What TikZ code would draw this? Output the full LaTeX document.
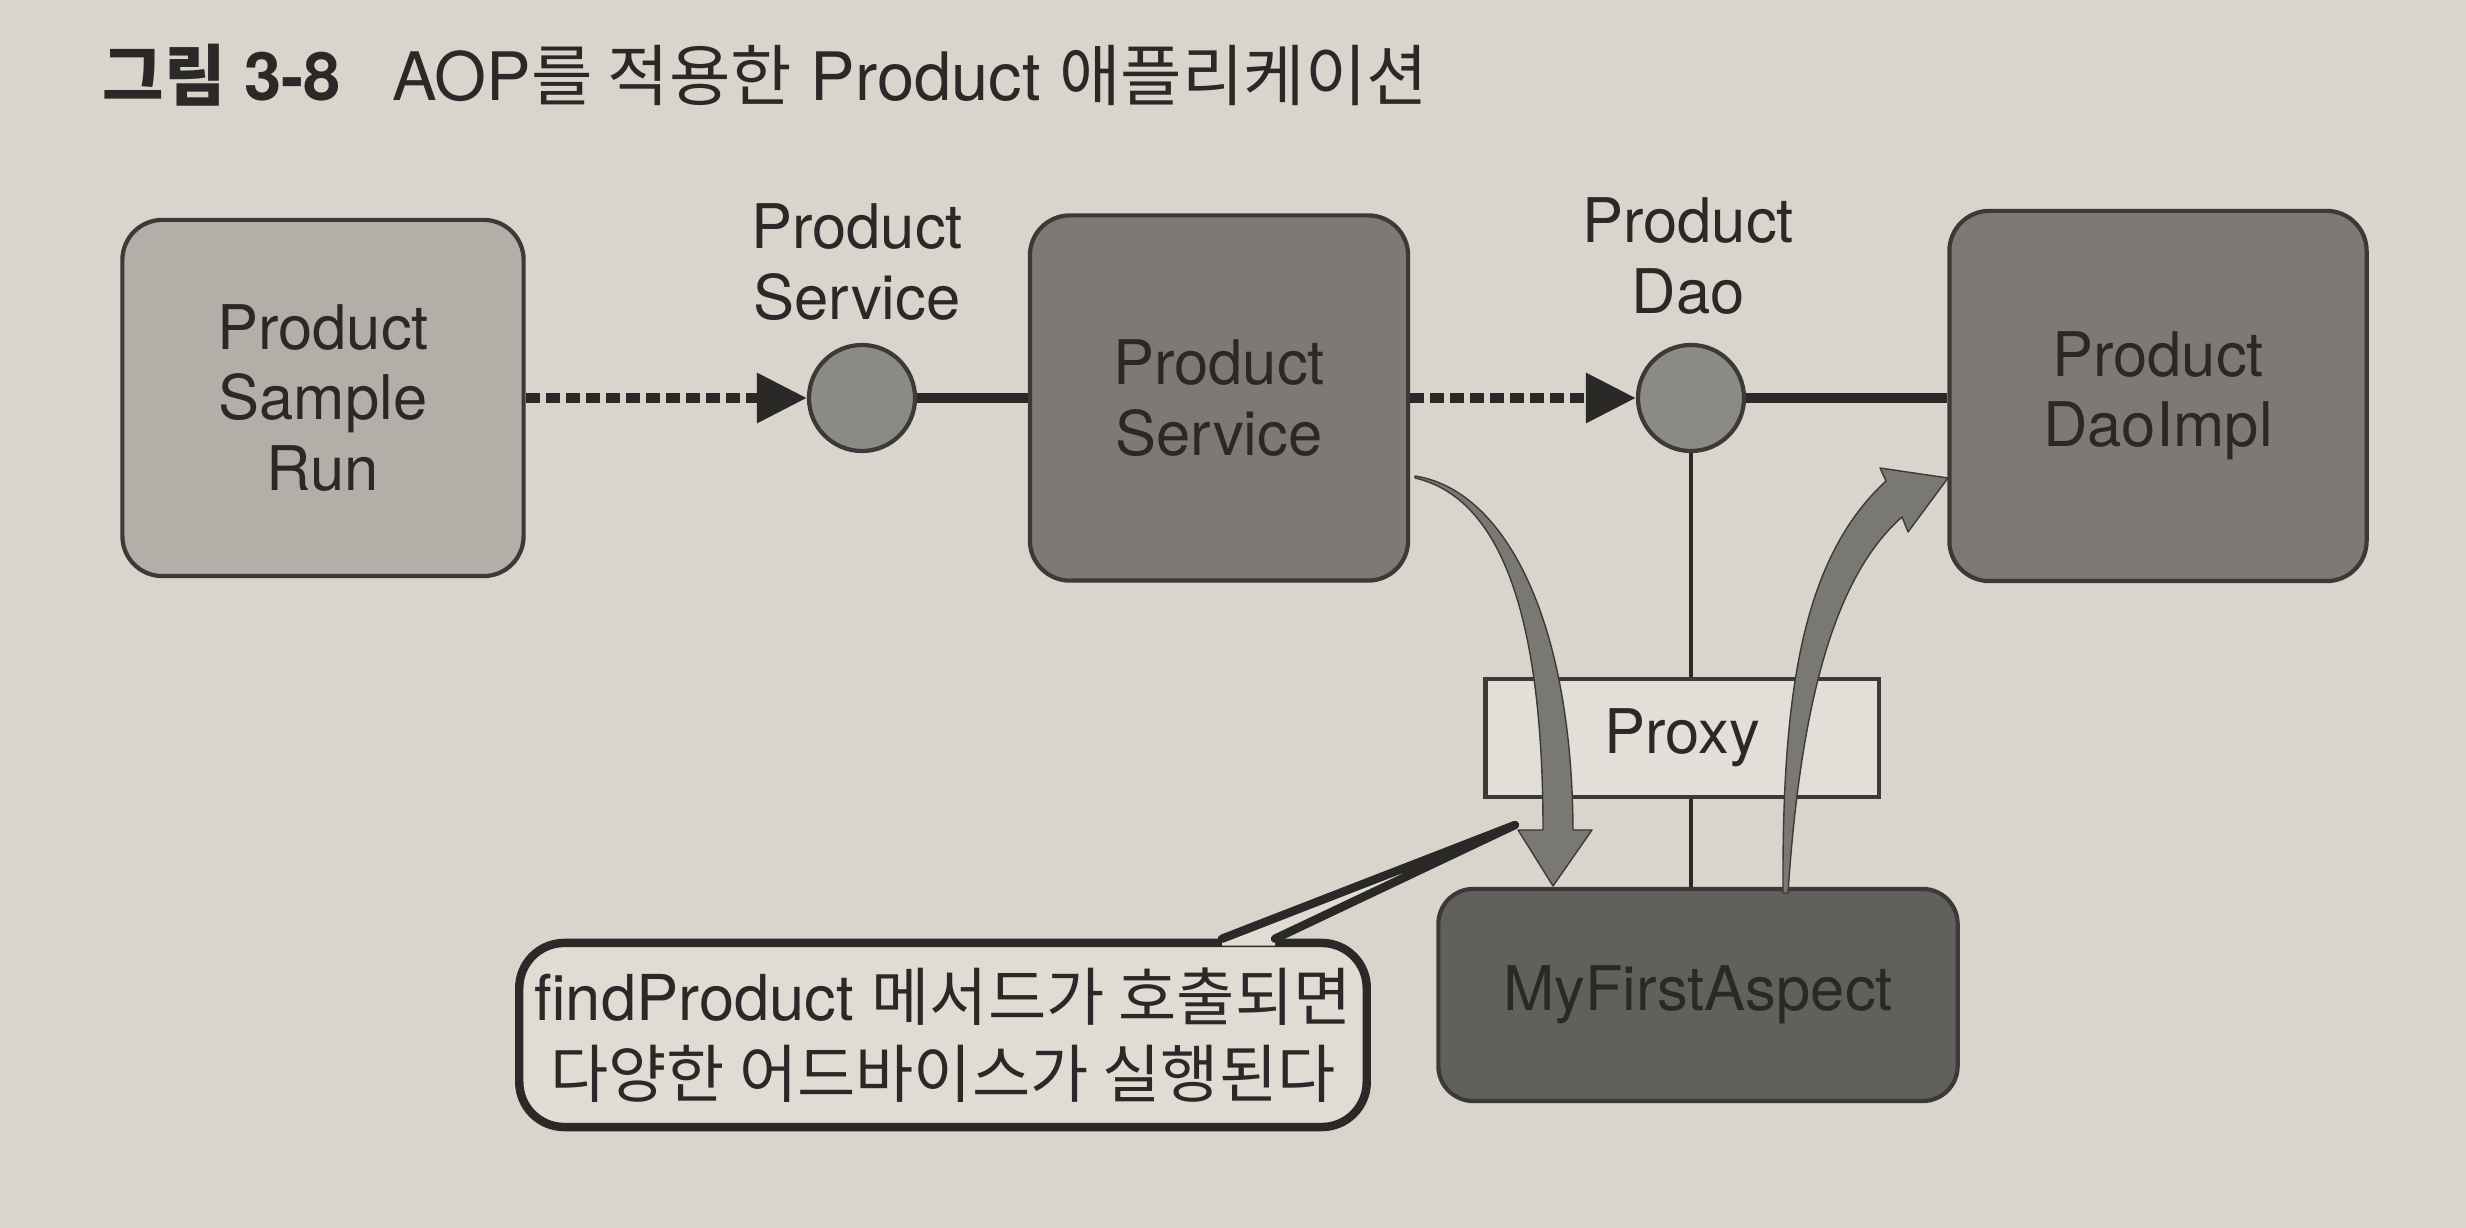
\documentclass[tikz,border=0pt]{standalone}
\usepackage{fontspec}
\setmainfont{TeX Gyre Heros}
\newfontfamily\kr{Noto Sans CJK KR}
\usetikzlibrary{arrows.meta,calc}
\definecolor{paper}{HTML}{D9D5CC}
\definecolor{psrfill}{HTML}{B2AFA8}
\definecolor{psfill}{HTML}{7D7A75}
\definecolor{mfafill}{HTML}{62605D}
\definecolor{circfill}{HTML}{8C8A85}
\definecolor{proxyfill}{HTML}{E2DFD8}
\definecolor{callfill}{HTML}{DFDCD4}
\definecolor{edge}{HTML}{3C3A38}
\definecolor{ink}{HTML}{2B2927}
\definecolor{flowfill}{HTML}{7A7873}
\begin{document}
\begin{tikzpicture}[x=0.01cm,y=-0.01cm,
  txt/.style={text=ink, align=center, font=\fontsize{17.5}{20}\selectfont},
  box/.style={txt, draw=edge, line width=1.2pt, rounded corners=0.4cm, inner sep=0pt},
  lbl/.style={txt, inner sep=0pt},
  iface/.style={circle, draw=edge, line width=1.2pt, fill=circfill, minimum size=1.06cm, inner sep=0pt},
  dasharrow/.style={draw=ink, line width=2.8pt, dash pattern=on 0.14cm off 0.06cm,
    -{Triangle[length=0.5cm,width=0.48cm]}},
  link/.style={draw=ink, line width=2.6pt},
  thinlink/.style={draw=ink, line width=1.3pt},
  flow/.style={fill=flowfill, draw=edge, line width=0.4pt, line join=round}
]
\fill[paper] (0,0) rectangle (2466,1228);

% title
\node[anchor=west, text=ink, inner sep=0pt, font=\fontsize{19}{22}\selectfont] (title) at (102,75)
  {{\kr\bfseries 그림} \textbf{3-8}\hspace{0.5em} AOP{\kr 를 적용한} Product {\kr 애플리케이션}};

% main row
\node[box, fill=psrfill, minimum width=4.01cm, minimum height=3.56cm] (psr) at (323,398) {Product\\Sample\\Run};
\node[iface] (c1) at (862,398) {};
\node[lbl] (c1l) at (857,262) {Product\\Service};
\node[box, fill=psfill, minimum width=3.78cm, minimum height=3.65cm] (ps) at (1219,398) {Product\\Service};
\node[iface] (c2) at (1691,398) {};
\node[lbl] (c2l) at (1688,256) {Product\\Dao};
\node[box, fill=psfill, minimum width=4.17cm, minimum height=3.70cm] (dao) at (2158,396) {Product\\DaoImpl};
\node[box, fill=mfafill, minimum width=5.19cm, minimum height=2.12cm, rounded corners=0.35cm] (mfa) at (1698,995) {MyFirstAspect};

\draw[dasharrow] (psr.east |- c1) -- (c1.west);
\draw[link] (c1.east) -- (ps.west |- c1);
\draw[dasharrow] (ps.east |- c2) -- (c2.west);
\draw[link] (c2.east) -- (dao.west |- c2);
\draw[thinlink] (c2.south) -- (c2.south |- mfa.north);

\node[txt, draw=edge, line width=1.2pt, fill=proxyfill, minimum width=3.93cm, minimum height=1.18cm, inner sep=0pt] (proxy) at (1682,738) {Proxy};

% call into the aspect
\fill[flow] (1415,476) .. controls (1505,490) and (1572,620) .. (1573,830)
  -- (1592,830) -- (1553,886) -- (1518,830) -- (1543,830)
  .. controls (1543,640) and (1510,500) .. (1415,478) -- cycle;
% return to the DAO
\fill[flow] (1783,893) .. controls (1782,700) and (1800,560) .. (1886,481)
  -- (1880,468) -- (1948,478) -- (1908,532) -- (1902,517)
  .. controls (1842,570) and (1802,680) .. (1788,893) -- cycle;

% callout
\node[txt, draw=ink, line width=2.4pt, fill=callfill, rounded corners=0.45cm,
  minimum width=8.47cm, minimum height=1.84cm, inner sep=0pt,
  font=\fontsize{18}{22}\selectfont] (call) at (943,1035)
  {findProduct {\kr 메서드가 호출되면}\\{\kr 다양한 어드바이스가 실행된다}};
\coordinate (tip) at (1515,825);
\coordinate (bl) at ($(call.north west)+(707,0)$);
\coordinate (br) at ($(call.north west)+(760,0)$);
\fill[callfill] ($(bl)+(0,7)$) -- (bl) -- (tip) -- (br) -- ($(br)+(0,7)$) -- cycle;
\draw[ink, line width=2.4pt, line join=round, line cap=round] (bl) -- (tip) -- (br);
\end{tikzpicture}
\end{document}
